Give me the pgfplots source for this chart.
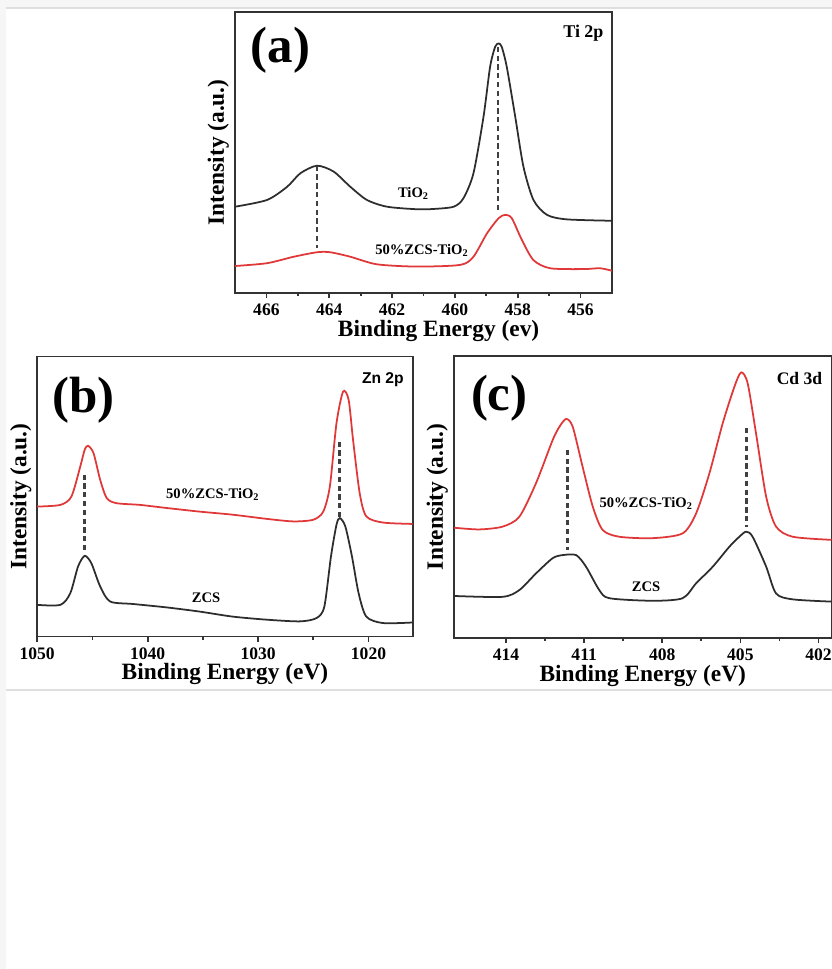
\documentclass[border=0pt]{standalone}
\usepackage{fontspec}
\setmainfont{Liberation Serif}
\newfontfamily\sansbf{Liberation Sans}
\usepackage{pgfplots}
\pgfplotsset{compat=1.18}

\definecolor{curvered}{RGB}{224,56,56}
\definecolor{curvegray}{RGB}{45,45,45}

\pgfplotsset{
  xpspanel/.style={
    scale only axis,
    x dir=reverse,
    ymin=0, ymax=100,
    ytick=\empty,
    xtick pos=left,
    tick align=outside,
    minor x tick num=1,
    major tick length=2.9pt,
    minor tick length=1.8pt,
    axis line style={line width=1.1pt, black!80},
    every tick/.style={line width=1pt, black!80},
    tick label style={font=\bfseries\fontsize{10}{11}\selectfont, text=black},
    /pgf/number format/assume math mode=true,
    /pgf/number format/1000 sep={},
    ylabel={Intensity (a.u.)},
    every axis y label/.style={at={(axis description cs:-0.044,0.5)}, rotate=90, anchor=center,
      font=\bfseries\fontsize{13.3}{15}\selectfont},
    every axis x label/.style={at={(axis description cs:0.5,-0.134)}, anchor=center,
      font=\bfseries\fontsize{13.3}{15}\selectfont},
  },
  spec/.style={line width=1pt, smooth, tension=0.45, no marks},
  guide/.style={line width=1.6pt, black!75, dash pattern=on 3pt off 2pt, no marks},
}
\tikzset{
  curvelabel/.style={font=\bfseries\fontsize{8.3}{10}\selectfont},
  panellabel/.style={font=\bfseries\fontsize{29}{32}\selectfont},
}

\begin{document}
\begin{tikzpicture}
\useasboundingbox (0,0) rectangle (16.64,19.38);
\fill[gray!7] (0,0) rectangle (16.64,19.38);
\fill[white] (0.12,0) rectangle (16.64,19.22);
\draw[gray!25, line width=0.6pt] (0.12,19.22) -- (16.64,19.22);
\draw[gray!25, line width=0.6pt] (0.12,5.58) -- (16.64,5.58);

% (a) Ti 2p
\begin{axis}[xpspanel,
  at={(4.70cm,13.52cm)}, anchor=south west,
  width=7.54cm, height=5.62cm,
  xmin=455, xmax=467,
  xtick={456,458,...,466},
  xlabel={Binding Energy (ev)},
  every axis x label/.append style={at={(axis description cs:0.54,-0.134)}},
]
\addplot[spec, curvegray] coordinates {
  (467.0,30.7) (465.98,33.1) (465.34,37.8) (464.92,42.6) (464.39,45.3)
  (463.86,43.2) (463.33,37.8) (462.80,33.1) (462.16,30.7) (461.21,29.8)
  (460.68,29.9) (460.04,30.7) (459.73,33.7) (459.41,42.6) (459.09,62.7)
  (458.88,80.5) (458.72,87.6) (458.61,88.8) (458.51,87.6) (458.35,80.5)
  (458.08,62.7) (457.82,45.0) (457.50,33.1) (457.07,27.8) (456.44,26.2)
  (455.0,25.7)
};
\addplot[spec, curvered] coordinates {
  (467.0,9.6) (465.98,10.6) (465.13,12.9) (464.39,14.5) (463.97,14.5)
  (463.33,12.9) (462.48,10.2) (461.21,9.4) (459.83,10.0) (459.41,12.9)
  (458.98,21.2) (458.61,26.6) (458.40,27.8) (458.19,26.6) (457.87,18.9)
  (457.50,11.7) (456.97,8.8) (455.91,8.5) (455.38,8.8) (455.0,7.9)
};
\addplot[guide] coordinates {(464.39,45.3) (464.39,15.9)};
\addplot[guide] coordinates {(458.63,87.6) (458.63,28.4)};
\node[curvelabel] at (axis cs:461.32,35.5) {TiO\textsubscript{2}};
\node[curvelabel] at (axis cs:461.05,15.3) {50\%ZCS-TiO\textsubscript{2}};
\node[font=\bfseries\fontsize{10.2}{11}\selectfont] at (axis cs:455.91,92.4) {Ti 2p};
\node[panellabel] at (axis cs:465.55,86.5) {(a)};
\end{axis}

% (b) Zn 2p
\begin{axis}[xpspanel,
  at={(0.744cm,6.65cm)}, anchor=south west,
  width=7.51cm, height=5.60cm,
  xmin=1016, xmax=1050,
  xtick={1020,1030,1040,1050},
  xlabel={Binding Energy (eV)},
]
\addplot[spec, curvered] coordinates {
  (1050.0,46.4) (1047.9,47.0) (1046.9,50.0) (1046.1,60.7) (1045.7,66.7)
  (1045.4,68.1) (1044.9,65.5) (1044.3,56.0) (1043.7,49.4) (1042.8,47.6)
  (1040.7,47.0) (1038.3,45.9) (1035.3,44.6) (1032.3,43.5) (1029.2,42.0)
  (1026.8,41.1) (1025.0,41.7) (1024.1,44.6) (1023.5,53.6) (1022.9,76.2)
  (1022.3,87.5) (1021.8,84.5) (1021.4,70.2) (1020.8,51.2)
  (1020.2,42.9) (1018.7,40.7) (1016.0,40.2)
};
\addplot[spec, curvegray] coordinates {
  (1050.0,11.3) (1047.9,11.3) (1047.0,15.5) (1046.3,25.0) (1045.7,28.8)
  (1045.1,26.2) (1044.3,17.9) (1043.4,12.5) (1041.3,11.6) (1038.3,10.4)
  (1035.3,8.9) (1032.3,7.1) (1029.2,6.0) (1026.2,5.4) (1024.7,6.6)
  (1024.0,10.7) (1023.4,28.6) (1022.9,39.9) (1022.6,42.3) (1022.1,39.3)
  (1021.5,28.6) (1020.9,15.5) (1020.2,7.1) (1018.7,4.8) (1016.0,5.0)
};
\addplot[guide] coordinates {(1045.7,57.8) (1045.7,29.8)};
\addplot[guide] coordinates {(1022.6,69.6) (1022.6,42.3)};
\node[curvelabel] at (axis cs:1034.1,50.6) {50\%ZCS-TiO\textsubscript{2}};
\node[curvelabel] at (axis cs:1034.7,13.7) {ZCS};
\node[font=\sansbf\bfseries\fontsize{8.9}{10}\selectfont] at (axis cs:1018.7,91.7) {Zn 2p};
\node[panellabel] at (axis cs:1045.8,84.5) {(b)};
\end{axis}

% (c) Cd 3d
\begin{axis}[xpspanel,
  at={(9.08cm,6.62cm)}, anchor=south west,
  width=7.55cm, height=5.64cm,
  xmin=401.5, xmax=416,
  xtick={402,405,...,414},
  xlabel={Binding Energy (eV)},
]
\addplot[spec, curvered] coordinates {
  (415.99,39.1) (415.03,38.5) (414.13,39.5) (413.49,43.0) (412.85,54.9)
  (412.21,70.2) (411.95,74.9) (411.69,77.7) (411.44,74.9) (411.06,60.7)
  (410.67,46.6) (410.29,38.3) (409.65,35.9) (408.37,35.4) (407.22,37.1)
  (406.70,44.2) (406.19,58.4) (405.68,76.1) (405.23,89.1) (404.97,94.2)
  (404.72,90.3) (404.40,72.6) (404.01,50.1) (403.63,39.5) (402.99,35.9)
  (401.50,34.8)
};
\addplot[spec, curvegray] coordinates {
  (415.99,14.9) (414.13,14.6) (413.49,17.0) (412.85,22.9) (412.21,28.3)
  (411.82,29.4) (411.31,29.4) (410.93,25.3) (410.42,17.0) (410.03,14.1)
  (408.37,13.2) (407.22,14.1) (406.70,19.4) (406.06,25.3) (405.42,32.4)
  (405.04,35.9) (404.78,37.7) (404.53,35.9) (404.01,25.3) (403.63,15.8)
  (402.99,13.7) (401.50,12.9)
};
\addplot[guide] coordinates {(411.63,66.7) (411.63,31.2)};
\addplot[guide] coordinates {(404.78,74.4) (404.78,39.5)};
\node[curvelabel] at (axis cs:408.62,47.8) {50\%ZCS-TiO\textsubscript{2}};
\node[curvelabel] at (axis cs:408.62,18.2) {ZCS};
\node[font=\bfseries\fontsize{10}{11}\selectfont] at (axis cs:402.73,92.1) {Cd 3d};
\node[panellabel] at (axis cs:414.26,85) {(c)};
\end{axis}
\end{tikzpicture}
\end{document}
